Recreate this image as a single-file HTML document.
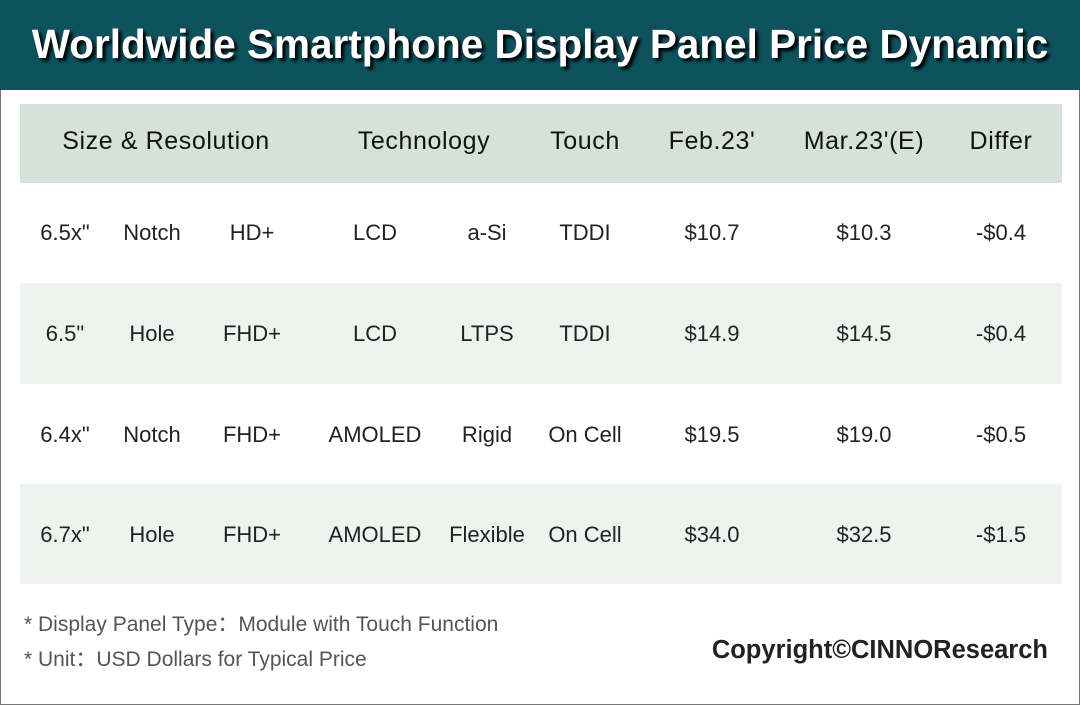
<!DOCTYPE html>
<html><head><meta charset="utf-8"><style>
body{margin:0;width:1080px;height:705px;overflow:hidden;background:#fff;font-family:"Liberation Sans","DejaVu Sans",sans-serif;}
#f{position:absolute;left:0;top:0;width:1078px;height:703px;border:1px solid #777;}
.t{position:absolute;left:0;top:0;width:1080px;height:90px;background:#0e525e;}
.t div{position:absolute;left:0;width:1080px;top:21px;text-align:center;color:#fff;font-weight:bold;font-size:40.5px;text-shadow:3px 3px 3px #000;}
.r{position:absolute;left:20px;width:1042px;}
.c{position:absolute;transform:translateX(-50%);white-space:nowrap;color:#222;font-size:22px;}
.h .c{font-size:25px;letter-spacing:0.6px;color:#111;}
.n{position:absolute;left:24px;color:#555;font-size:21px;}
</style></head><body><div id="f"></div>
<div class="t"><div>Worldwide Smartphone Display Panel Price Dynamic</div></div>
<div class="r h" style="top:104px;height:79px;background:#d6e2d9"></div>
<div class="r" style="top:283px;height:101px;background:#eef3ef"></div>
<div class="r" style="top:484px;height:100px;background:#eef3ef"></div>
<div id="rows"></div>
<div class="n" style="top:608px">* Display Panel Type：Module with Touch Function</div>
<div class="n" style="top:643px">* Unit：USD Dollars for Typical Price</div>
<div style="position:absolute;right:32px;top:636px;font-weight:bold;font-size:25.5px;color:#222">Copyright©CINNOResearch</div>
<div class="h">
<span class="c" style="left:166px;top:127px">Size &amp; Resolution</span>
<span class="c" style="left:424px;top:127px">Technology</span>
<span class="c" style="left:585px;top:127px">Touch</span>
<span class="c" style="left:712px;top:127px">Feb.23'</span>
<span class="c" style="left:864px;top:127px">Mar.23'(E)</span>
<span class="c" style="left:1001px;top:127px">Differ</span>
</div>
<script>
var xs=[65,152,252,375,487,585,712,864,1001];
var d=[['6.5x"','Notch','HD+','LCD','a-Si','TDDI','$10.7','$10.3','-$0.4'],
['6.5"','Hole','FHD+','LCD','LTPS','TDDI','$14.9','$14.5','-$0.4'],
['6.4x"','Notch','FHD+','AMOLED','Rigid','On Cell','$19.5','$19.0','-$0.5'],
['6.7x"','Hole','FHD+','AMOLED','Flexible','On Cell','$34.0','$32.5','-$1.5']];
var ys=[220,321,422,522],h='';
d.forEach(function(r,i){r.forEach(function(t,j){h+='<span class="c" style="left:'+xs[j]+'px;top:'+ys[i]+'px">'+t+'</span>';});});
document.getElementById('rows').innerHTML=h;
</script>
</body></html>
